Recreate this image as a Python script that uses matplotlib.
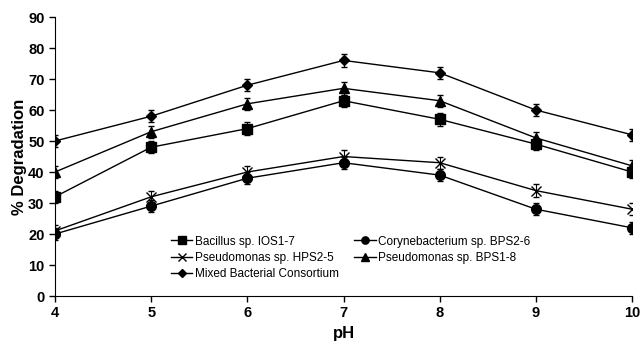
import numpy as np
import matplotlib
matplotlib.use("Agg")
import matplotlib.pyplot as plt
from matplotlib.lines import Line2D

plt.rcParams['font.family'] = ['Liberation Sans', 'DejaVu Sans']

ph = [4, 5, 6, 7, 8, 9, 10]
bacillus = [32, 48, 54, 63, 57, 49, 40]
coryne = [20, 29, 38, 43, 39, 28, 22]
pseudo_hps = [21, 32, 40, 45, 43, 34, 28]
pseudo_bps = [40, 53, 62, 67, 63, 51, 42]
mixed = [50, 58, 68, 76, 72, 60, 52]
err = [2, 2, 2, 2, 2, 2, 2]

series = [
    ('Bacillus sp. IOS1-7', bacillus, 's', 7),
    ('Corynebacterium sp. BPS2-6', coryne, 'o', 7),
    ('Pseudomonas sp. HPS2-5', pseudo_hps, 'x', 7),
    ('Pseudomonas sp. BPS1-8', pseudo_bps, '^', 7),
    ('Mixed Bacterial Consortium', mixed, 'D', 5.5),
]

fig = plt.figure(figsize=(6.43, 3.44), dpi=100)
ax = fig.add_axes([0.0855, 0.1395, 0.8975, 0.811])

handles = {}
for name, vals, m, ms in series:
    ax.errorbar(ph, vals, yerr=err, marker=m, ms=ms, mew=1.0, color='black',
                lw=1.0, capsize=2.5, elinewidth=0.8, capthick=0.8)
    handles[name] = Line2D([], [], color='black', lw=1.0, marker=m,
                           ms=ms * 0.75, mew=1.0)

ax.set_xlim(4, 10)
ax.set_ylim(0, 90)
ax.set_xticks(ph)
ax.set_yticks(range(0, 91, 10))
for s in ['top', 'right']:
    ax.spines[s].set_visible(False)
ax.tick_params(length=4, width=1, labelsize=10.5)
for lab in ax.get_xticklabels() + ax.get_yticklabels():
    lab.set_fontweight('bold')
ax.set_xlabel('pH', fontsize=12, fontweight='bold', labelpad=4)
ax.set_ylabel('% Degradation', fontsize=12, fontweight='bold', labelpad=1)

order = ['Bacillus sp. IOS1-7', 'Pseudomonas sp. HPS2-5', 'Mixed Bacterial Consortium',
         'Corynebacterium sp. BPS2-6', 'Pseudomonas sp. BPS1-8']
ax.legend([handles[n] for n in order], order, ncol=2, frameon=False, fontsize=8.5,
          loc='lower left', bbox_to_anchor=(0.182, 0.02),
          handlelength=1.85, handletextpad=0.2, columnspacing=1.3,
          labelspacing=0.35)

fig.savefig('out.png', dpi=100)
